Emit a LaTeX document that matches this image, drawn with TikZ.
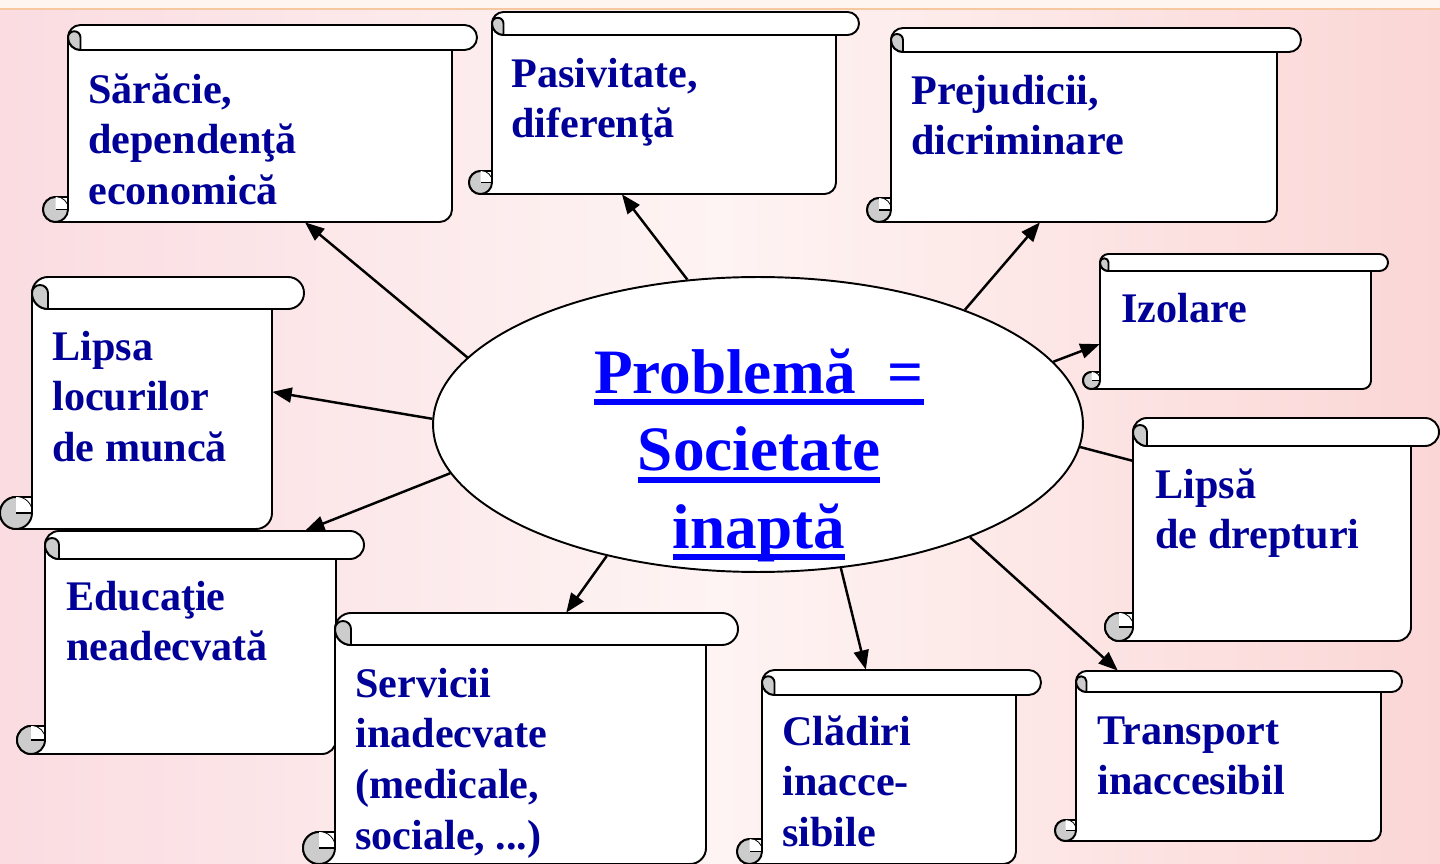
\documentclass[tikz,border=0pt]{standalone}
\usepackage{fontspec}
\setmainfont{Liberation Serif}
\usetikzlibrary{shapes.geometric,arrows.meta,fit,calc}

\definecolor{navytext}{RGB}{0,0,153}
\definecolor{curlgrey}{RGB}{204,204,204}
\definecolor{bgleft}{RGB}{250,220,225}
\definecolor{bgmid}{RGB}{254,244,243}
\definecolor{bgright}{RGB}{251,214,214}
\definecolor{bgtop}{RGB}{254,245,240}
\definecolor{bgline}{RGB}{247,200,160}

% subliniere groasa
\newcommand{\ulthick}[1]{\leavevmode\setbox0=\hbox{#1}\rlap{\rule[-6.8pt]{\wd0}{3.4pt}}\box0}

\tikzset{
  link/.style={line width=1.4pt},
  arr/.style={link, -{Triangle[length=11pt,width=8.5pt]}},
  scrollline/.style={line width=1.1pt, line join=round},
  scrolltxt/.style={anchor=north west, inner sep=0pt, align=left, text=navytext,
    font=\bfseries\fontsize{24}{29}\selectfont},
  problem/.style={ellipse, draw, line width=1.1pt, fill=white,
    minimum width=13cm, minimum height=5.9cm},
}

% sul orizontal: nume, x0, y0, x1, y1, grosimea rolei
\newcommand{\scrollbox}[6]{%
  \pgfmathsetmacro{\scL}{#2+#6}
  \pgfmathsetmacro{\scR}{#4-#6}
  \pgfmathsetmacro{\scH}{#6/2}
  \pgfmathsetmacro{\scQ}{#6/4}
  % corpul
  \filldraw[scrollline, fill=white] (\scL,#3+\scH) -- (\scL,#5-#6) -- (#2+\scH,#5-#6)
    arc[start angle=270, end angle=90, radius=\scH] -- (\scR-\scH,#5)
    arc[start angle=90, end angle=0, radius=\scH] -- (\scR,#3+\scH) -- cycle;
  % rola de sus
  \filldraw[scrollline, fill=white] (\scL+\scH,#3) -- (#4-\scH,#3)
    arc[start angle=270, end angle=450, radius=\scH] -- (\scL+\scH,#3+#6)
    arc[start angle=90, end angle=270, radius=\scH] -- cycle;
  \filldraw[scrollline, fill=curlgrey] (\scL,#3+\scH)
    arc[start angle=180, end angle=90, radius=\scH] -- (\scL+\scH,#3+\scH)
    arc[start angle=0, end angle=-180, radius=\scQ] -- cycle;
  % rola de jos
  \filldraw[scrollline, fill=curlgrey] (#2+\scH,#5-\scH) circle[radius=\scH];
  \fill[white] (#2+\scH,#5-\scH) -- (#2+\scH,#5-#6)
    arc[start angle=270, end angle=360, radius=\scH] -- cycle;
  \draw[scrollline] (\scL,#5-#6) -- (\scL,#5-\scH) -- (#2+\scH,#5-\scH);
  \node[fit={(\scL,#3) (\scR,#5)}, inner sep=0pt] (#1) {};
}

\begin{document}
\begin{tikzpicture}[x=0.02cm, y=-0.02cm]
  \useasboundingbox (0,0) rectangle (1440,864);
  \clip (0,0) rectangle (1440,864);
  % fundal
  \shade[left color=bgleft, right color=bgright, middle color=bgmid] (0,0) rectangle (1440,864);
  \fill[bgtop] (0,0) rectangle (1440,9);
  \draw[bgline, line width=1.2pt] (0,9) -- (1440,9);

  % sulurile
  \scrollbox{sar}{43}{25}{477}{222}{25}
  \scrollbox{pas}{469}{12}{859}{194}{23}
  \scrollbox{pre}{867}{28}{1301}{222}{24}
  \scrollbox{izo}{1083}{254}{1388}{389}{17}
  \scrollbox{lip}{0}{277}{304}{529}{32}
  \scrollbox{ldr}{1105}{418}{1439}{641}{28}
  \scrollbox{edu}{17}{531}{364}{754}{28}
  \scrollbox{ser}{303}{613}{738}{864}{32}
  \scrollbox{cla}{737}{670}{1041}{864}{25}
  \scrollbox{tra}{1055}{671}{1402}{841}{21}

  % textele
  \node[scrolltxt] (sar-t) at (88,67) {\strut Sărăcie,\\dependenţă\\economică};
  \node[scrolltxt] (pas-t) at (511,51) {\strut Pasivitate,\\diferenţă};
  \node[scrolltxt] (pre-t) at (911,68) {\strut Prejudicii,\\dicriminare};
  \node[scrolltxt] (izo-t) at (1121,286) {\strut Izolare};
  \node[scrolltxt] (lip-t) at (52,324) {\strut Lipsa\\locurilor\\de muncă};
  \node[scrolltxt] (ldr-t) at (1155,462) {\strut Lipsă\\de drepturi};
  \node[scrolltxt] (edu-t) at (66,574) {\strut Educaţie\\neadecvată};
  \node[scrolltxt] (ser-t) at (355,661) {\strut Servicii\\inadecvate\\(medicale,\\sociale, ...)};
  \node[scrolltxt] (cla-t) at (782,709) {\strut Clădiri\\inacce-\\sibile};
  \node[scrolltxt] (tra-t) at (1097,708) {\strut Transport\\inaccesibil};

  % elipsa din centru
  \node[problem] (prob) at (758,424.5) {};
  \node[anchor=north, align=center, text=blue, inner sep=0pt,
    font=\bfseries\fontsize{36}{44}\selectfont] (prob-t) at (759,339)
    {\strut\ulthick{Problemă~~=}\\\ulthick{Societate}\\\ulthick{inaptă}};

  % sageti
  \draw[arr] (prob.167) -- ($(sar.south west)!0.617!(sar.south east)$);
  \draw[arr] (prob.116) -- ($(pas.south west)!0.378!(pas.south east)$);
  \draw[arr] (prob.29) -- ($(pre.south west)!0.386!(pre.south east)$);
  \draw[arr] (prob.12) -- ($(izo.north west)!0.667!(izo.south west)$);
  \draw[arr] (prob.179) -- ($(lip.north east)!0.456!(lip.south east)$);
  \draw[link] (prob.356) -- ($(ldr.north west)!0.193!(ldr.south west)$);
  \draw[arr] (prob.189) -- ($(edu.north west)!0.893!(edu.north east)$);
  \draw[arr] (prob.221) -- ($(ser.north west)!0.623!(ser.north east)$);
  \draw[arr] (prob.300) -- ($(cla.north west)!0.409!(cla.north east)$);
  \draw[arr] (prob.332) -- ($(tra.north west)!0.138!(tra.north east)$);
\end{tikzpicture}
\end{document}
